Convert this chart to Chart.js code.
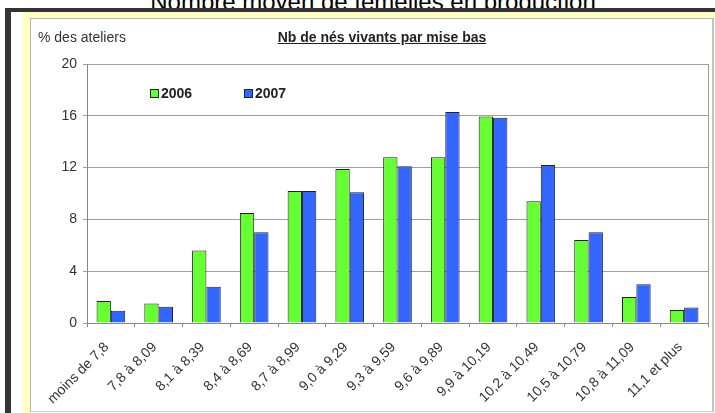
<!DOCTYPE html>
<html>
<head>
<meta charset="utf-8">
<script src="https://cdn.jsdelivr.net/npm/chart.js@4/dist/chart.umd.min.js"></script>
<style>
  body { margin: 0; background: #fff; font-family: "Liberation Sans", Arial, sans-serif; }
  #page { position: relative; width: 715px; height: 413px; overflow: hidden; background: #fff; }
  .abs { position: absolute; }
  #topTitle { left: 0; top: 0; width: 746px; height: 8px; overflow: hidden; }
  #topTitle div { position: absolute; left: 0; top: -10px; width: 746px; text-align: center;
    font-size: 24px; line-height: 24px; color: #000; white-space: nowrap; }
  #frame { left: 30px; top: 18px; width: 681px; height: 392px; background: #fff;
    border: 1px solid #b4b4b4; border-right: 2px solid #c4c4bc; border-bottom-color: #d0d0d0; }
  #yTitle { left: 38px; top: 30px; font-size: 14px; line-height: 14px; color: #333; white-space: nowrap; }
  #chartTitle { left: 275px; width: 214px; top: 30px; text-align: center; font-size: 14px; line-height: 14px;
    font-weight: bold; text-decoration: underline; color: #222; white-space: nowrap; }
  #legend .item { position: absolute; top: 86px; font-size: 14px; line-height: 14px; font-weight: bold; color: #222; }
  #legend .box { display: inline-block; width: 7px; height: 7px; border: 1px solid #222; margin-right: 2px; vertical-align: 0px; }
</style>
</head>
<body>
<div id="page">
  <div id="topTitle" class="abs"><div>Nombre moyen de femelles en production</div></div>
  <div class="abs" style="left:5px;top:8px;width:710px;height:4px;background:#333;"></div>
  <div class="abs" style="left:5px;top:8px;width:6px;height:405px;background:#333;"></div>
  <div class="abs" style="left:22px;top:12px;width:693px;height:6px;background:#ffffc6;"></div>
  <div class="abs" style="left:22px;top:12px;width:8px;height:401px;background:#ffffc6;"></div>
  <div id="frame" class="abs">
    <canvas id="chart" width="681" height="392"></canvas>
  </div>
  <div id="yTitle" class="abs">% des ateliers</div>
  <div id="chartTitle" class="abs">Nb de nés vivants par mise bas</div>
  <div id="legend"></div>
</div>
<script>
const categories = ['moins de 7,8', '7,8 à 8,09', '8,1 à 8,39', '8,4 à 8,69', '8,7 à 8,99', '9,0 à 9,29',
  '9,3 à 9,59', '9,6 à 9,89', '9,9 à 10,19', '10,2 à 10,49', '10,5 à 10,79', '10,8 à 11,09', '11,1 et plus'];
const seriesNames = ['2006', '2007'];
const values2006 = [1.7, 1.5, 5.6, 8.5, 10.2, 11.9, 12.8, 12.8, 15.95, 9.4, 6.4, 2.0, 1.0];
const values2007 = [0.95, 1.25, 2.8, 7.0, 10.2, 10.1, 12.1, 16.3, 15.85, 12.2, 7.0, 3.0, 1.2];
const yTicks = [0, 4, 8, 12, 16, 20];

const colors = ['#66ff33', '#3366ff'];

Chart.defaults.font.family = '"Liberation Sans", Arial, sans-serif';
Chart.defaults.font.size = 14;
Chart.defaults.color = '#333';

// right edge of the plot area (Excel style frame)
const plotFrame = {
  id: 'plotFrame',
  beforeDatasetsDraw(chart) {
    const { ctx, chartArea: a } = chart;
    ctx.save();
    ctx.strokeStyle = '#9a9a9a';
    ctx.lineWidth = 1;
    ctx.beginPath();
    ctx.moveTo(Math.round(a.right) + 0.5, a.top);
    ctx.lineTo(Math.round(a.right) + 0.5, a.bottom);
    ctx.stroke();
    ctx.restore();
  }
};

const chart = new Chart(document.getElementById('chart').getContext('2d'), {
  type: 'bar',
  data: {
    labels: categories,
    datasets: [
      { label: seriesNames[0], data: values2006, backgroundColor: colors[0], borderColor: '#222', borderWidth: 1 },
      { label: seriesNames[1], data: values2007, backgroundColor: colors[1], borderColor: '#222', borderWidth: 1 }
    ]
  },
  options: {
    responsive: false,
    animation: false,
    layout: { padding: { left: 0, top: 45, right: 4, bottom: 0 } },
    datasets: { bar: { categoryPercentage: 0.6, barPercentage: 1.0 } },
    plugins: { legend: { display: false }, tooltip: { enabled: false } },
    scales: {
      x: {
        grid: { drawOnChartArea: false, tickLength: 4, color: '#888' },
        border: { color: '#888' },
        ticks: { autoSkip: false, minRotation: 45, maxRotation: 45, padding: 12, labelOffset: -4, color: '#333' },
        afterFit: s => { s.height = 88; }
      },
      y: {
        min: 0, max: 20,
        afterBuildTicks: s => { s.ticks = yTicks.map(v => ({ value: v })); },
        grid: { color: '#a0a0a0', tickLength: 4 },
        border: { color: '#888' },
        ticks: { padding: 6, color: '#333' },
        afterFit: s => { s.width = 56; }
      }
    }
  },
  plugins: [plotFrame]
});

// legend sits inside the plot, as in the original
const legendLeft = [150, 244];
const legend = document.getElementById('legend');
chart.data.datasets.forEach((ds, i) => {
  const item = document.createElement('div');
  item.className = 'item';
  item.style.left = legendLeft[i] + 'px';
  item.innerHTML = '<span class="box" style="background:' + ds.backgroundColor + '"></span>' + ds.label;
  legend.appendChild(item);
});
</script>
</body>
</html>
